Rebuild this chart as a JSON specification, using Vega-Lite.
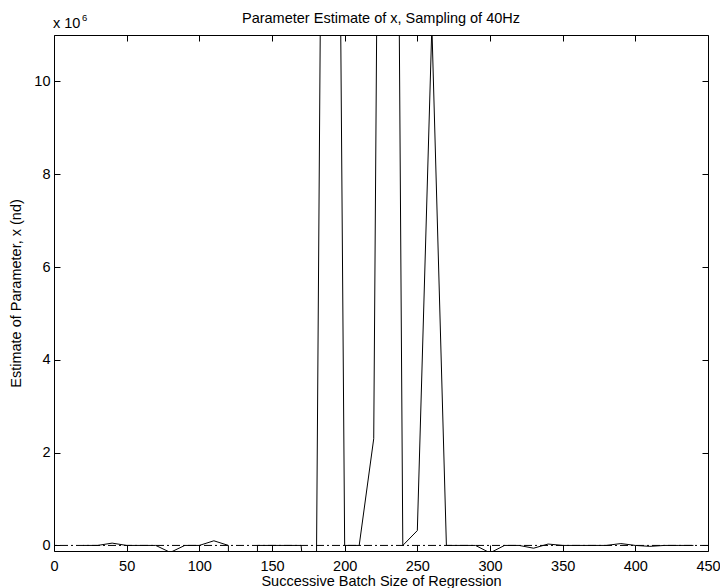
{
  "$schema": "https://vega.github.io/schema/vega-lite/v6.json",
  "width": 654,
  "height": 516,
  "autosize": "none",
  "padding": {"left": 54, "top": 35, "right": 12, "bottom": 37},
  "background": "white",
  "config": {
    "font": "Liberation Sans",
    "view": {"stroke": "#000", "strokeWidth": 1},
    "axis": {"grid": false, "domain": false, "tickColor": "#000", "tickWidth": 1, "tickSize": 6, "offset": -6, "labelColor": "#000", "titleColor": "#000", "labelFontSize": 14.5, "titleFontSize": 14.5, "titleFontWeight": "normal", "labelFlush": false, "labelOverlap": false}
  },
  "title": {"text": "Parameter Estimate of x, Sampling of 40Hz", "fontSize": 14.5, "fontWeight": "normal", "color": "#000", "anchor": "middle", "frame": "group", "offset": -13},
  "datasets": {
    "estimates": [
      {"batch": 20, "estimate": 0},
      {"batch": 30, "estimate": 0},
      {"batch": 40, "estimate": 50000},
      {"batch": 50, "estimate": 0},
      {"batch": 60, "estimate": 0},
      {"batch": 70, "estimate": 0},
      {"batch": 80, "estimate": -150000},
      {"batch": 90, "estimate": 0},
      {"batch": 100, "estimate": 0},
      {"batch": 110, "estimate": 100000},
      {"batch": 120, "estimate": 0},
      {"batch": 130, "estimate": -500000000},
      {"batch": 140, "estimate": 0},
      {"batch": 150, "estimate": 0},
      {"batch": 160, "estimate": 0},
      {"batch": 170, "estimate": 0},
      {"batch": 180, "estimate": -3000000},
      {"batch": 190, "estimate": 41000000},
      {"batch": 200, "estimate": 0},
      {"batch": 210, "estimate": 0},
      {"batch": 220, "estimate": 2300000},
      {"batch": 230, "estimate": 46000000},
      {"batch": 240, "estimate": 0},
      {"batch": 250, "estimate": 320000},
      {"batch": 260, "estimate": 11200000},
      {"batch": 270, "estimate": 0},
      {"batch": 280, "estimate": 0},
      {"batch": 290, "estimate": 0},
      {"batch": 300, "estimate": -160000},
      {"batch": 310, "estimate": 0},
      {"batch": 320, "estimate": 0},
      {"batch": 330, "estimate": -60000},
      {"batch": 340, "estimate": 30000},
      {"batch": 350, "estimate": 0},
      {"batch": 360, "estimate": 0},
      {"batch": 370, "estimate": 0},
      {"batch": 380, "estimate": 0},
      {"batch": 390, "estimate": 40000},
      {"batch": 400, "estimate": 0},
      {"batch": 410, "estimate": -20000},
      {"batch": 420, "estimate": 0},
      {"batch": 430, "estimate": 0},
      {"batch": 440, "estimate": 0}
    ]
  },
  "resolve": {"axis": {"x": "independent", "y": "independent"}},
  "layer": [
    {
      "data": {"values": [{}]},
      "mark": {"type": "rule", "color": "#000", "strokeWidth": 1, "strokeDash": [8, 3, 2, 3]},
      "encoding": {"y": {"datum": 0, "type": "quantitative", "axis": null}}
    },
    {
      "data": {"name": "estimates"},
      "mark": {"type": "line", "clip": true, "color": "#000", "strokeWidth": 1},
      "encoding": {
        "x": {
          "field": "batch", "type": "quantitative",
          "scale": {"domain": [0, 450], "nice": false, "zero": false},
          "axis": {"orient": "bottom", "values": [0, 50, 100, 150, 200, 250, 300, 350, 400, 450], "labelPadding": 8, "title": "Successive Batch Size of Regression", "titlePadding": 2}
        },
        "y": {
          "field": "estimate", "type": "quantitative",
          "scale": {"domain": [-120000, 11000000], "nice": false, "zero": false},
          "axis": {"orient": "left", "values": [0, 2000000, 4000000, 6000000, 8000000, 10000000], "labelExpr": "format(datum.value / 1000000, 'd')", "labelPadding": 4, "title": "Estimate of Parameter, x (nd)", "titlePadding": 10}
        }
      }
    },
    {
      "data": {"values": [{}]},
      "mark": {"type": "point", "opacity": 0, "clip": true},
      "encoding": {
        "x": {
          "datum": 0, "type": "quantitative",
          "axis": {"orient": "top", "values": [0, 50, 100, 150, 200, 250, 300, 350, 400, 450], "labels": false, "title": null}
        },
        "y": {
          "datum": 0, "type": "quantitative",
          "axis": {"orient": "right", "values": [0, 2000000, 4000000, 6000000, 8000000, 10000000], "labels": false, "title": null}
        }
      }
    },
    {
      "data": {"values": [{}]},
      "mark": {"type": "text", "text": "x 10", "align": "left", "baseline": "alphabetic", "fontSize": 14.5, "color": "#000", "dx": -1, "dy": -7},
      "encoding": {
        "x": {"datum": 0, "type": "quantitative", "axis": null},
        "y": {"datum": 11000000, "type": "quantitative", "axis": null}
      }
    },
    {
      "data": {"values": [{}]},
      "mark": {"type": "text", "text": "6", "align": "left", "baseline": "alphabetic", "fontSize": 9.5, "color": "#000", "dx": 28, "dy": -14},
      "encoding": {
        "x": {"datum": 0, "type": "quantitative", "axis": null},
        "y": {"datum": 11000000, "type": "quantitative", "axis": null}
      }
    }
  ]
}
